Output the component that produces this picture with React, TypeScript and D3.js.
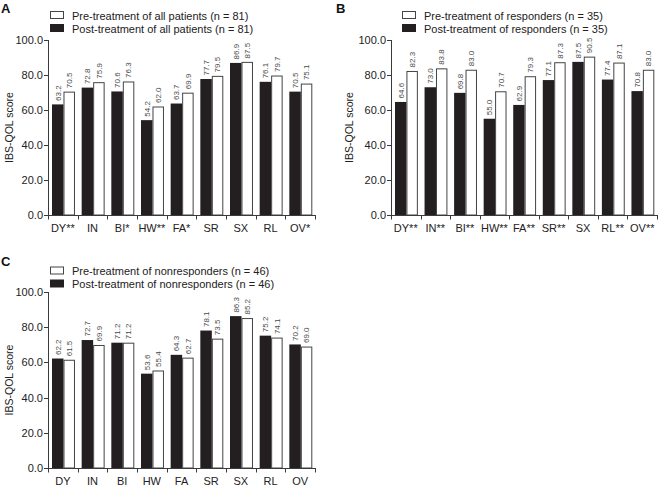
import React from "react";
import * as d3 from "d3";

const categoriesA = ["DY**", "IN", "BI*", "HW**", "FA*", "SR", "SX", "RL", "OV*"];
const categoriesB = ["DY**", "IN**", "BI**", "HW**", "FA**", "SR**", "SX", "RL**", "OV**"];
const categoriesC = ["DY", "IN", "BI", "HW", "FA", "SR", "SX", "RL", "OV"];

const blackA = [63.2, 72.8, 70.6, 54.2, 63.7, 77.7, 86.9, 76.1, 70.5];
const whiteA = [70.5, 75.9, 76.3, 62.0, 69.9, 79.5, 87.5, 79.7, 75.1];
const blackB = [64.6, 73.0, 69.8, 55.0, 62.9, 77.1, 87.5, 77.4, 70.8];
const whiteB = [82.3, 83.8, 83.0, 70.7, 79.3, 87.3, 90.5, 87.1, 83.0];
const blackC = [62.2, 72.7, 71.2, 53.6, 64.3, 78.1, 86.3, 75.2, 70.2];
const whiteC = [61.5, 69.9, 71.2, 55.4, 62.7, 73.5, 85.2, 74.1, 69.0];

const yTicks = [0, 20, 40, 60, 80, 100];

const legendA = ["Pre-treatment of all patients (n = 81)", "Post-treatment of all patients (n = 81)"];
const legendB = ["Pre-treatment of responders (n = 35)", "Post-treatment of responders (n = 35)"];
const legendC = ["Pre-treatment of nonresponders (n = 46)", "Post-treatment of nonresponders (n = 46)"];

const FONT = "'Liberation Sans', Arial, Helvetica, sans-serif";
const DARK = "#231f20";
const AXIS = "#3a3a3a";

type PanelProps = {
  letter: string;
  letterX: number;
  letterY: number;
  left: number;
  right: number;
  top: number;
  bottom: number;
  categories: string[];
  black: number[];
  white: number[];
  legend: string[];
  legendX: number;
  legendY: number;
  titleX: number;
};

function Panel(p: PanelProps) {
  const y = d3.scaleLinear().domain([0, 100]).range([p.bottom, p.top]);
  const x = d3.scaleBand<string>().domain(p.categories).range([p.left, p.right]);
  const bw = x.bandwidth();
  const sub = d3.scaleBand<string>().domain(["black", "white"]).range([4, bw - 2.7]);
  const sw = sub.bandwidth();
  const fmt = d3.format(".1f");
  const boundaries = p.categories.map((c) => x(c) as number).concat([p.right]);

  return (
    <g>
      <text x={p.letterX} y={p.letterY} fontFamily={FONT} fontWeight="bold" fontSize={13} fill="#111">
        {p.letter}
      </text>
      {p.legend.map((t, i) => (
        <g key={t}>
          <rect
            x={p.legendX + 0.5}
            y={p.legendY + i * 13 + 0.5}
            width={13}
            height={7}
            fill={i === 0 ? "#fff" : DARK}
            stroke={i === 0 ? "#444" : DARK}
            strokeWidth={1}
          />
          <text x={p.legendX + 22} y={p.legendY + 8.5 + i * 13} fontFamily={FONT} fontSize={11} fill="#222">
            {t}
          </text>
        </g>
      ))}
      {p.categories.map((c, i) => {
        const x0 = x(c) as number;
        const xb = x0 + (sub("black") as number);
        const xw = x0 + (sub("white") as number);
        const yb = y(p.black[i]);
        const yw = y(p.white[i]);
        return (
          <g key={c}>
            <rect x={xb} y={yb} width={sw} height={p.bottom - yb} fill={DARK} />
            <rect x={xw + 0.5} y={yw + 0.5} width={sw - 1} height={p.bottom - yw - 0.5} fill="#fff" stroke="#444" strokeWidth={1} />
            <text
              transform={`translate(${xb + sw / 2 + 2.8},${yb - 3.5}) rotate(-90)`}
              fontFamily={FONT}
              fontSize={8}
              fill="#4a4a4a"
            >
              {fmt(p.black[i])}
            </text>
            <text
              transform={`translate(${xw + sw / 2 + 2.8},${yw - 3.5}) rotate(-90)`}
              fontFamily={FONT}
              fontSize={8}
              fill="#4a4a4a"
            >
              {fmt(p.white[i])}
            </text>
            <text x={x0 + bw / 2} y={p.bottom + 16.5} textAnchor="middle" fontFamily={FONT} fontSize={11} fill="#222">
              {c}
            </text>
          </g>
        );
      })}
      <line x1={p.left + 0.5} x2={p.left + 0.5} y1={p.top} y2={p.bottom} stroke={AXIS} strokeWidth={1} />
      {yTicks.map((t) => (
        <g key={t}>
          <line x1={p.left - 4} x2={p.left + 0.5} y1={Math.round(y(t)) + 0.5} y2={Math.round(y(t)) + 0.5} stroke={AXIS} />
          <text x={p.left - 5} y={y(t) + 4} textAnchor="end" fontFamily={FONT} fontSize={11} fill="#222">
            {fmt(t)}
          </text>
        </g>
      ))}
      <line x1={p.left} x2={p.right} y1={p.bottom + 0.5} y2={p.bottom + 0.5} stroke={AXIS} strokeWidth={1} />
      {boundaries.map((b, i) => (
        <line key={i} x1={Math.round(b) + 0.5} x2={Math.round(b) + 0.5} y1={p.bottom} y2={p.bottom + 4.5} stroke={AXIS} />
      ))}
      <text
        transform={`translate(${p.titleX},${(p.top + p.bottom) / 2}) rotate(-90)`}
        textAnchor="middle"
        fontFamily={FONT}
        fontSize={10.5}
        fill="#222"
      >
        IBS-QOL score
      </text>
    </g>
  );
}

export default function App() {
  return (
    <svg
      width={658}
      height={485}
      style={{ position: "absolute", left: 0, top: 0, background: "#fff" }}
    >
      <rect x={0} y={0} width={658} height={485} fill="#fff" />
      <Panel
        letter="A"
        letterX={1}
        letterY={13}
        left={48}
        right={315}
        top={40}
        bottom={215}
        categories={categoriesA}
        black={blackA}
        white={whiteA}
        legend={legendA}
        legendX={50}
        legendY={11}
        titleX={13}
      />
      <Panel
        letter="B"
        letterX={336}
        letterY={13}
        left={391}
        right={657}
        top={40}
        bottom={215}
        categories={categoriesB}
        black={blackB}
        white={whiteB}
        legend={legendB}
        legendX={402}
        legendY={11}
        titleX={353}
      />
      <Panel
        letter="C"
        letterX={1}
        letterY={266}
        left={48}
        right={315}
        top={292}
        bottom={468}
        categories={categoriesC}
        black={blackC}
        white={whiteC}
        legend={legendC}
        legendX={50}
        legendY={266.5}
        titleX={13}
      />
    </svg>
  );
}
